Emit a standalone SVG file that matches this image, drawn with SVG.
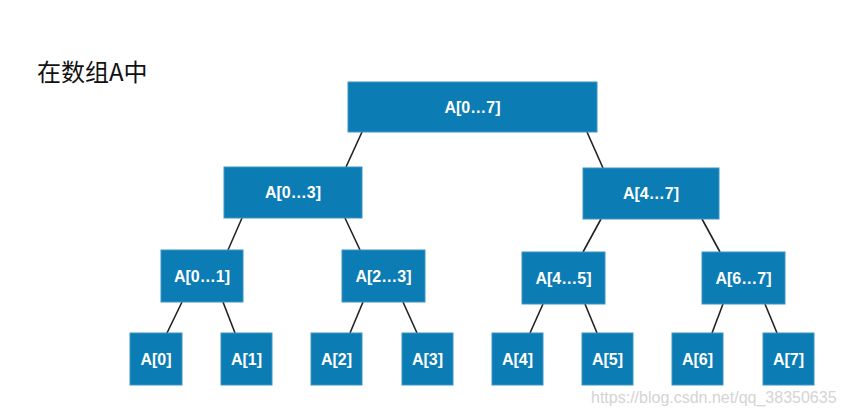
<svg xmlns="http://www.w3.org/2000/svg" width="843" height="415" viewBox="0 0 843 415">
<style>
.n rect{fill:#0b7cb4;stroke:#3d95c4;stroke-width:1}
.n text{fill:#fff;font-family:"Liberation Sans",Arial,sans-serif;font-weight:bold;font-size:16px;text-anchor:middle;dominant-baseline:central}
.e line{stroke:#222;stroke-width:1.6}
</style>
<rect width="843" height="415" fill="#fff"/>
<text x="37" y="81" font-family="'Noto Sans CJK SC',sans-serif" font-size="24" fill="#111">在数组A中</text>
<g class="e">
<line x1="362" y1="132" x2="346" y2="167"/>
<line x1="587" y1="132" x2="603" y2="168"/>
<line x1="242" y1="218" x2="228" y2="250"/>
<line x1="345" y1="218" x2="360" y2="250"/>
<line x1="601" y1="219" x2="583" y2="252"/>
<line x1="702" y1="219" x2="720" y2="252"/>
<line x1="182" y1="302" x2="167" y2="333"/>
<line x1="223" y1="302" x2="235" y2="333"/>
<line x1="363" y1="302" x2="350" y2="333"/>
<line x1="403" y1="302" x2="417" y2="333"/>
<line x1="543" y1="304" x2="530" y2="333"/>
<line x1="585" y1="304" x2="597" y2="333"/>
<line x1="723" y1="304" x2="712" y2="333"/>
<line x1="765" y1="304" x2="777" y2="333"/>
</g>
<g id="n07" class="n"><rect x="348" y="82" width="249" height="50"/><text x="472.5" y="107">A[0…7]</text></g>
<g id="n03" class="n"><rect x="224" y="167" width="138" height="51"/><text x="293" y="192.5">A[0…3]</text></g>
<g id="n47" class="n"><rect x="583" y="168" width="136" height="51"/><text x="651" y="193.5">A[4…7]</text></g>
<g id="n01" class="n"><rect x="161" y="250" width="82" height="52"/><text x="202" y="276">A[0…1]</text></g>
<g id="n23" class="n"><rect x="342" y="250" width="83" height="52"/><text x="383.5" y="276">A[2…3]</text></g>
<g id="n45" class="n"><rect x="522" y="252" width="83" height="52"/><text x="563.5" y="278">A[4…5]</text></g>
<g id="n67" class="n"><rect x="702" y="252" width="83" height="52"/><text x="743.5" y="278">A[6…7]</text></g>
<g id="a0" class="n"><rect x="130" y="333" width="52" height="52"/><text x="156" y="359">A[0]</text></g>
<g id="a1" class="n"><rect x="221" y="333" width="51" height="52"/><text x="246.5" y="359">A[1]</text></g>
<g id="a2" class="n"><rect x="311" y="333" width="51" height="52"/><text x="336.5" y="359">A[2]</text></g>
<g id="a3" class="n"><rect x="402" y="333" width="51" height="52"/><text x="427.5" y="359">A[3]</text></g>
<g id="a4" class="n"><rect x="492" y="333" width="51" height="52"/><text x="517.5" y="359">A[4]</text></g>
<g id="a5" class="n"><rect x="582" y="333" width="51" height="52"/><text x="607.5" y="359">A[5]</text></g>
<g id="a6" class="n"><rect x="672" y="333" width="51" height="52"/><text x="697.5" y="359">A[6]</text></g>
<g id="a7" class="n"><rect x="763" y="333" width="51" height="52"/><text x="788.5" y="359">A[7]</text></g>
<text x="591" y="403" font-family="'Liberation Sans',Arial,sans-serif" font-size="16" fill="#d4d4d4">https://blog.csdn.net/qq_38350635</text>
</svg>
